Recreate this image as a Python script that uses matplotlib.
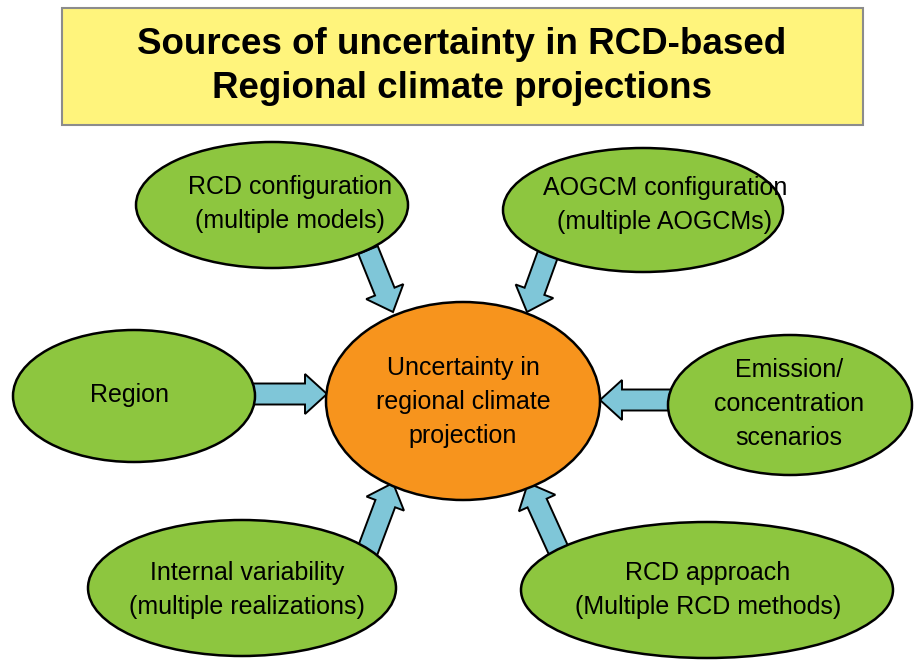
import matplotlib
matplotlib.use("Agg")
import matplotlib.pyplot as plt
from matplotlib.patches import Ellipse, FancyArrow, Rectangle
from matplotlib import font_manager

names = {f.name for f in font_manager.fontManager.ttflist}
FAM = ['Liberation Sans Narrow', 'DejaVu Sans'] if 'Liberation Sans Narrow' in names else ['Liberation Sans', 'DejaVu Sans']

title_lines = ["Sources of uncertainty in RCD-based", "Regional climate projections"]

node_labels = [
    "RCD configuration\n(multiple models)",
    "AOGCM configuration\n(multiple AOGCMs)",
    "Region",
    "Uncertainty in\nregional climate\nprojection",
    "Emission/\nconcentration\nscenarios",
    "Internal variability\n(multiple realizations)",
    "RCD approach\n(Multiple RCD methods)",
]
node_centers = [(272, 205), (643, 210), (134, 396), (463, 401), (790, 405), (242, 588), (707, 590)]
node_sizes = [(272, 126), (280, 124), (242, 132), (274, 198), (244, 140), (308, 136), (372, 136)]
text_centers = [(290, 204), (665, 205), (130, 395), (463, 402), (789, 404), (247, 590), (708, 590)]
node_colors = ["#8DC63F", "#8DC63F", "#8DC63F", "#F7941D", "#8DC63F", "#8DC63F", "#8DC63F"]

arrow_starts = [(368, 250), (553, 240), (245, 394), (680, 400), (366, 555), (562, 558)]
arrow_ends = [(393, 312), (527, 312), (327, 394), (600, 400), (393, 483), (528, 483)]

fig = plt.figure(figsize=(9.2, 6.61), dpi=100)
ax = fig.add_axes([0, 0, 1, 1])
ax.set_xlim(0, 920)
ax.set_ylim(661, 0)
ax.axis('off')

ax.add_patch(Rectangle((62, 8), 801, 117, facecolor="#FFF47C", edgecolor="#8C8C8C", lw=1.5, zorder=1))
ax.text(462, 45, title_lines[0], ha='center', va='center', fontsize=26.5, fontweight='bold', family=FAM, zorder=2)
ax.text(462, 89, title_lines[1], ha='center', va='center', fontsize=26.5, fontweight='bold', family=FAM, zorder=2)

for (x0, y0), (x1, y1) in zip(arrow_starts, arrow_ends):
    ax.add_patch(FancyArrow(x0, y0, x1 - x0, y1 - y0, width=21, head_width=40, head_length=22,
                            length_includes_head=True, facecolor="#7FC6D8", edgecolor="black",
                            lw=1.4, zorder=3))

for lab, c, s, tc, col in zip(node_labels, node_centers, node_sizes, text_centers, node_colors):
    ax.add_patch(Ellipse(c, s[0], s[1], facecolor=col, edgecolor="black", lw=1.8, zorder=4))
    ax.text(tc[0], tc[1], lab, ha='center', va='center', fontsize=18, family=FAM,
            linespacing=1.55, zorder=5)

fig.savefig("out.png", dpi=100)
